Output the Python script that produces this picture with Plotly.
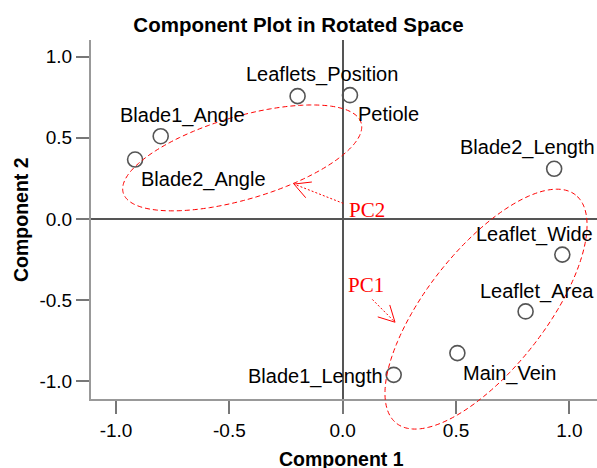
import numpy as np
import plotly.graph_objects as go

# ---------------- data ----------------
variables = ["Leaflets_Position", "Petiole", "Blade1_Angle", "Blade2_Angle",
             "Blade2_Length", "Leaflet_Wide", "Leaflet_Area", "Main_Vein",
             "Blade1_Length"]
component1 = [-0.199, 0.032, -0.803, -0.916, 0.933, 0.969, 0.807, 0.506, 0.225]
component2 = [0.757, 0.763, 0.510, 0.366, 0.309, -0.220, -0.570, -0.827, -0.961]
tick_values = [-1.0, -0.5, 0.0, 0.5, 1.0]
tick_labels = ["-1.0", "-0.5", "0.0", "0.5", "1.0"]
group_names = ["PC1", "PC2"]

# ---------------- layout geometry / style ----------------
W, H = 597, 468
ML, MR, MT, MB = 91, 0, 40, 468 - 399
XR = [-1.1105, 1.122]
YR = [-1.11, 1.103]
PW, PH = W - ML - MR, H - MT - MB
PX_X = PW / (XR[1] - XR[0])
PX_Y = PH / (YR[1] - YR[0])

# label placement: (xanchor, xshift px, yshift px)
label_pos = {
    "Leaflets_Position": ("center", 24, 22),
    "Petiole": ("left", 6, -19),
    "Blade1_Angle": ("center", 22, 21),
    "Blade2_Angle": ("center", 68, -20),
    "Blade2_Length": ("center", -27, 21),
    "Leaflet_Wide": ("center", -28, 20),
    "Leaflet_Area": ("center", 11, 20),
    "Main_Vein": ("center", 52, -20),
    "Blade1_Length": ("right", -9, -2),
}

# ellipse annotations: center (data), semi-axes (px), angle (deg)
ellipses = {
    "PC1": (0.6323, -0.556, 145.1, 59.5, 51.9),
    "PC2": (-0.4434, 0.3762, 124.0, 41.4, 16.4),
}
# arrow annotations: tail (data), tip (data)
arrows = {
    "PC1": ((0.1306, -0.4961), (0.2307, -0.6365)),
    "PC2": ((0.0026, 0.0959), (-0.2149, 0.2149)),
}
group_label_pos = {"PC1": (0.103, -0.408), "PC2": (0.107, 0.0546)}

RED = "#ff0000"
SANS = "Liberation Sans, Arial"
fig = go.Figure()


def to_paper(xd, yd):
    return (np.asarray(xd) - XR[0]) / (XR[1] - XR[0]), (np.asarray(yd) - YR[0]) / (YR[1] - YR[0])


shapes = []
# ellipses (paper-referenced so they are not clipped by the plot area)
for name in group_names:
    cx, cy, a, b, ang = ellipses[name]
    t = np.linspace(0, 2 * np.pi, 240)
    th = np.radians(ang)
    dx = a * np.cos(t) * np.cos(th) - b * np.sin(t) * np.sin(th)
    dy = a * np.cos(t) * np.sin(th) + b * np.sin(t) * np.cos(th)
    px, py = to_paper(cx + dx / PX_X, cy + dy / PX_Y)
    path = "M " + " L ".join(f"{u:.5f},{v:.5f}" for u, v in zip(px, py)) + " Z"
    shapes.append(dict(type="path", xref="paper", yref="paper", path=path,
                       line=dict(color=RED, width=1, dash="5px,3px"), layer="above"))

# arrows
for name in group_names:
    (x0, y0), (x1, y1) = arrows[name]
    fig.add_trace(go.Scatter(x=[x0, x1], y=[y0, y1], mode="lines",
                             line=dict(color=RED, width=1, dash="2px,2px"),
                             hoverinfo="skip", showlegend=False))
    vx, vy = (x0 - x1) * PX_X, (y0 - y1) * PX_Y
    L = np.hypot(vx, vy)
    ux, uy = vx / L, vy / L
    for s in (1, -1):
        r = np.radians(28 * s)
        hx = ux * np.cos(r) - uy * np.sin(r)
        hy = ux * np.sin(r) + uy * np.cos(r)
        fig.add_trace(go.Scatter(x=[x1, x1 + 18 * hx / PX_X],
                                 y=[y1, y1 + 18 * hy / PX_Y], mode="lines",
                                 line=dict(color=RED, width=1),
                                 hoverinfo="skip", showlegend=False))

# points
fig.add_trace(go.Scatter(x=component1, y=component2, mode="markers",
                         marker=dict(symbol="circle-open", size=15,
                                     color="#555555", line=dict(width=1.6)),
                         showlegend=False))

ann = []
for v, xv, yv in zip(variables, component1, component2):
    xa, xs, ys = label_pos[v]
    ann.append(dict(x=xv, y=yv, xref="x", yref="y", text=v, showarrow=False,
                    xanchor=xa, yanchor="middle", xshift=xs, yshift=ys,
                    font=dict(family=SANS, size=20, color="black")))
for name in group_names:
    gx, gy = group_label_pos[name]
    ann.append(dict(x=gx, y=gy, xref="x", yref="y", text=name, showarrow=False,
                    xanchor="center", yanchor="middle",
                    font=dict(family="Liberation Serif, Times New Roman", size=21, color=RED)))
ann.append(dict(x=(341 - ML) / PW, y=(399 - 459) / PH,
                xref="paper", yref="paper", text="<b>Component 1</b>", showarrow=False,
                xanchor="center", yanchor="middle",
                font=dict(family=SANS, size=19.5, color="black")))
ann.append(dict(x=(21 - ML) / PW, y=(399 - 220) / PH,
                xref="paper", yref="paper", text="<b>Component 2</b>", showarrow=False,
                xanchor="center", yanchor="middle", textangle=-90,
                font=dict(family=SANS, size=19.5, color="black")))

axis_common = dict(showgrid=False, zeroline=True, zerolinecolor="#555555",
                   zerolinewidth=2, showline=True, linecolor="#999999", linewidth=2,
                   ticks="outside", ticklen=13, tickwidth=2, tickcolor="#777777",
                   tickvals=tick_values, ticktext=tick_labels,
                   tickfont=dict(family=SANS, size=19, color="black"),
                   fixedrange=True)

fig.update_layout(
    width=W, height=H,
    margin=dict(l=ML, r=MR, t=MT, b=MB),
    paper_bgcolor="white", plot_bgcolor="white",
    title=dict(text="<b>Component Plot in Rotated Space</b>", x=298.5 / W,
               xref="container", y=1 - 25 / H, yref="container",
               yanchor="middle", xanchor="center",
               font=dict(family=SANS, size=20.5, color="black")),
    xaxis=dict(range=XR, **axis_common),
    yaxis=dict(range=YR, **axis_common),
    annotations=ann,
    shapes=shapes,
    showlegend=False,
)

fig.write_html(
    "out.html",
    config={"displayModeBar": False},
    post_script="document.body.style.margin='0';document.body.style.overflow='hidden';",
)
